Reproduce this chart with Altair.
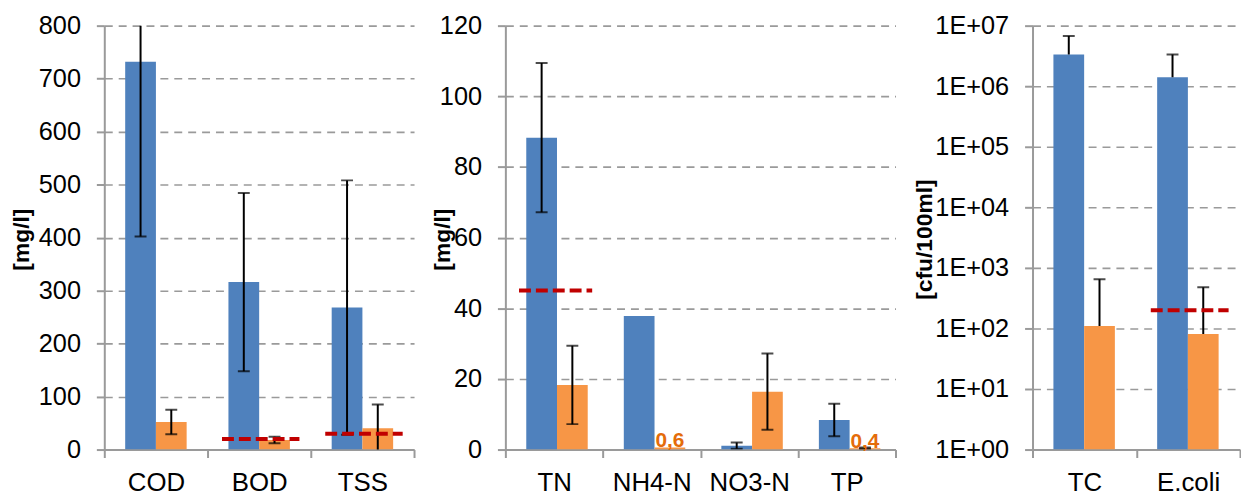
import altair as alt
import pandas as pd

series = ["Influent", "Effluent"]
colors = ["#4F81BD", "#F79646"]

# Panel 1
p1_cats = ["COD", "BOD", "TSS"]
p1_in = [732, 316, 268]
p1_in_err = [330, 168, 240]
p1_out = [52, 18, 40]
p1_out_err = [23, 6, 45]
p1_lim_cats = ["BOD", "TSS"]
p1_lim = [20, 30]

# Panel 2
p2_cats = ["TN", "NH4-N", "NO3-N", "TP"]
p2_in = [88.3, 37.8, 1.1, 8.4]
p2_in_err = [21.1, 0, 0.9, 4.6]
p2_out = [18.3, 0.6, 16.4, 0.4]
p2_out_err = [11.1, 0, 10.8, 0.2]
p2_lim_cats = ["TN"]
p2_lim = [45]
p2_lbl_cats = ["NH4-N", "TP"]
p2_lbl = ["0,6", "0,4"]

# Panel 3
p3_cats = ["TC", "E.coli"]
p3_in = [3.35e6, 1.4e6]
p3_in_err = [3.4e6, 1.95e6]
p3_out = [110, 81]
p3_out_err = [540, 400]
p3_lim_cats = ["E.coli"]
p3_lim = [200]

FONT = "Liberation Sans"
GRID = "#9a9a9a"
H = 427


def make_panel(cats, vin, ein, vout, eout, lim_cats, lims, width, ydomain,
               yticks, title, titlex, pad_outer, log=False,
               lbl_cats=None, lbls=None):
    rows = []
    for s, vals, errs in ((series[0], vin, ein), (series[1], vout, eout)):
        for c, v, e in zip(cats, vals, errs):
            lo = v - e
            lo_cap = True
            if log and lo <= 0:
                lo = v
                lo_cap = False
            rows.append(dict(cat=c, series=s, val=v, err=e, lo=lo, hi=v + e,
                             locap=lo_cap))
    df = pd.DataFrame(rows)
    edf = df[df["err"] > 0]
    lodf = edf[edf["locap"]]

    xscale = alt.Scale(domain=cats, paddingInner=0, paddingOuter=0)
    xaxis = alt.Axis(title=None, tickBand="extent", labelAngle=0,
                     labelFontSize=26, labelFont=FONT, labelColor="#000000",
                     tickSize=8, tickColor=GRID, tickWidth=2,
                     domainColor=GRID, domainWidth=2, labelPadding=12,
                     grid=False)
    x = alt.X("cat:N", scale=xscale, axis=xaxis)
    xo = alt.XOffset("series:N",
                     scale=alt.Scale(domain=series, paddingInner=0,
                                     paddingOuter=pad_outer))
    if log:
        ysc = alt.Scale(type="log", domain=ydomain, nice=False)
        lblexpr = "'1E+0' + round(log(datum.value) / LN10)"
    else:
        ysc = alt.Scale(domain=ydomain, nice=False, zero=True)
        lblexpr = "datum.label"
    yaxis = alt.Axis(values=yticks, title=title, labelExpr=lblexpr,
                     labelFontSize=25.5, labelFont=FONT, labelColor="#000000",
                     labelPadding=16, tickSize=8, tickColor=GRID, tickWidth=2,
                     domainColor=GRID, domainWidth=2,
                     grid=True, gridColor=GRID, gridDash=[8, 6],
                     gridWidth=1.6,
                     titleFontSize=23, titleFontWeight="bold", titleFont=FONT,
                     titleColor="#000000", titleAngle=-90,
                     titleX=titlex, titleY=215, titleBaseline="middle",
                     titleAlign="center")
    y = alt.Y("val:Q", scale=ysc, axis=yaxis)

    bars = alt.Chart(df).mark_bar(clip=True).encode(
        x=x, xOffset=xo, y=y, y2=alt.datum(ydomain[0]),
        color=alt.Color("series:N", scale=alt.Scale(domain=series,
                                                   range=colors),
                        legend=None),
    )
    layers = [bars]

    err = alt.Chart(edf).mark_rule(color="black", strokeWidth=2,
                                   clip=True).encode(
        x=x, xOffset=xo, y=alt.Y("lo:Q"), y2="hi:Q")
    capt = alt.Chart(edf).mark_tick(color="black", size=12, thickness=2,
                                    clip=True).encode(
        x=x, xOffset=xo, y=alt.Y("hi:Q"))
    layers += [err, capt]
    if len(lodf):
        capb = alt.Chart(lodf).mark_tick(color="black", size=12, thickness=2,
                                         clip=True).encode(
            x=x, xOffset=xo, y=alt.Y("lo:Q"))
        layers.append(capb)

    ldf = pd.DataFrame({"cat": lim_cats, "val": lims})
    lim = alt.Chart(ldf).mark_rule(color="#C00000", strokeWidth=4,
                                   strokeDash=[12, 5]).encode(
        x=alt.X("cat:N", scale=xscale, axis=xaxis, bandPosition=0.14),
        x2=alt.X2("cat:N", bandPosition=0.89),
        y=alt.Y("val:Q"))
    layers.append(lim)

    if lbl_cats:
        tdf = pd.DataFrame({"cat": lbl_cats, "series": series[1],
                            "val": [vout[cats.index(c)] for c in lbl_cats],
                            "text": lbls})
        txt = alt.Chart(tdf).mark_text(color="#E46C0A", fontWeight="bold",
                                       fontSize=21, font=FONT,
                                       baseline="alphabetic",
                                       align="center").encode(
            x=x, xOffset=xo, y=alt.Y("val:Q"), text="text:N")
        layers.append(txt)

    return alt.layer(*layers).properties(width=width, height=H)


def spacer(w):
    return alt.Chart(pd.DataFrame({"a": [0]})).mark_point(opacity=0).encode(
        x=alt.X("a:Q", axis=None), y=alt.Y("a:Q", axis=None)
    ).properties(width=w, height=H)


c1 = make_panel(p1_cats, p1_in, p1_in_err, p1_out, p1_out_err, p1_lim_cats,
                p1_lim, 312, [0, 800], list(range(0, 801, 100)), "[mg/l]",
                -83, 0.68)
c2 = make_panel(p2_cats, p2_in, p2_in_err, p2_out, p2_out_err, p2_lim_cats,
                p2_lim, 393, [0, 120], list(range(0, 121, 20)), "[mg/l]",
                -63, 0.70, lbl_cats=p2_lbl_cats, lbls=p2_lbl)
c3 = make_panel(p3_cats, p3_in, p3_in_err, p3_out, p3_out_err, p3_lim_cats,
                p3_lim, 209, [1, 1e7], [10 ** k for k in range(0, 8)],
                "[cfu/100ml]", -109, 0.73, log=True)

chart = alt.hconcat(c1, spacer(92), c2, spacer(138), c3, spacing=0,
                    bounds="flush").properties(
    padding={"left": 3, "top": 4, "right": 0, "bottom": 0},
    background="white",
).configure_view(stroke=None)

chart.save("out.html", embed_options={"renderer": "svg", "actions": False})
